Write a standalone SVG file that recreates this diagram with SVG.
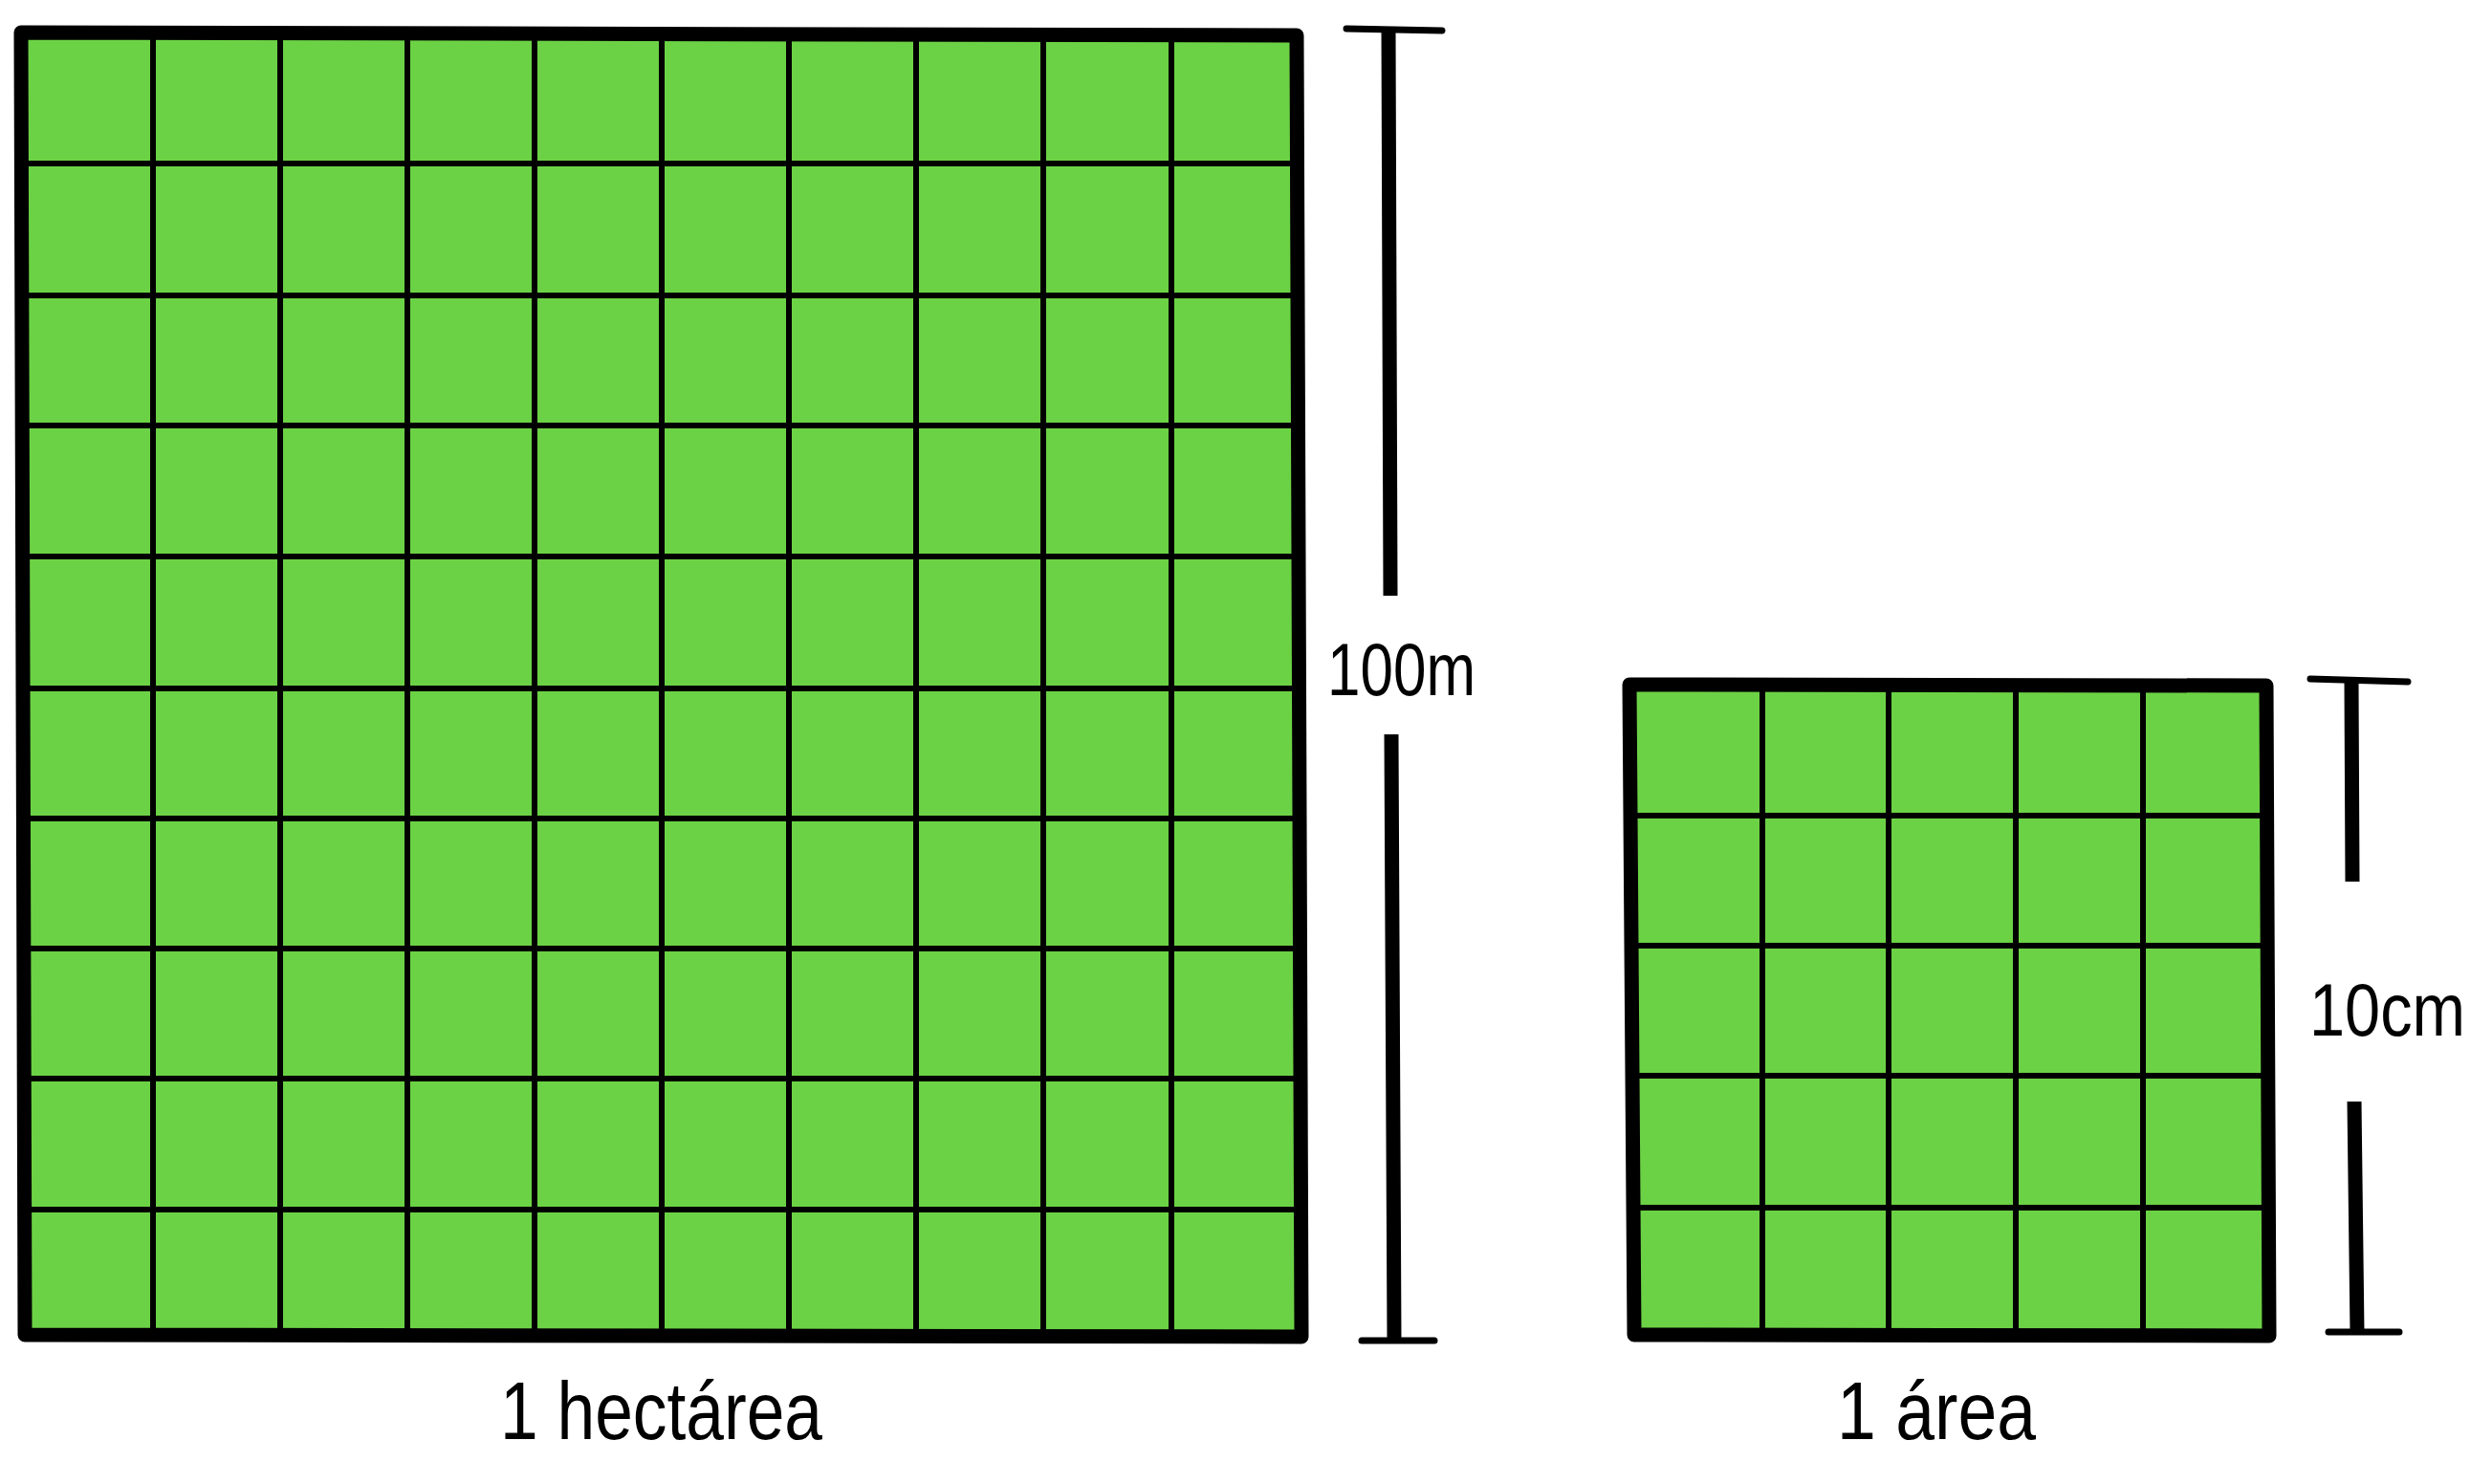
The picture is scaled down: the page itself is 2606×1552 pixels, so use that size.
<svg xmlns="http://www.w3.org/2000/svg" width="2606" height="1552" viewBox="0 0 2606 1552">
  <style>
    .field { fill: #6CD245; }
    .thin { stroke: #000; stroke-width: 6; fill: none; }
    .border { stroke: #000; stroke-width: 15; fill: none; stroke-linejoin: round; stroke-linecap: round; }
    .stem { stroke: #000; stroke-width: 15; fill: none; }
    .bar { stroke: #000; stroke-width: 7; fill: none; stroke-linecap: round; }
    .lbl { font-family: "Liberation Sans", "DejaVu Sans", sans-serif; fill: #000; }
  </style>
  <rect width="2606" height="1552" fill="#fff"/>

  <g id="hectarea">
    <rect class="field" x="26" y="36" width="1334" height="1360"/>
    <path class="thin" d="M160 36V1396M293 36V1396M426 36V1396M559 36V1396M692 36V1396M825 36V1396M958 36V1396M1091 36V1396M1225 36V1396"/>
    <path class="thin" d="M26 171H1360M26 309H1360M26 445H1360M26 582H1360M26 720H1360M26 856H1360M26 992H1360M26 1128H1360M26 1265H1360"/>
    <path class="border" d="M22 34L1356 37L1361 1398L26 1396Z"/>
  </g>

  <g id="area">
    <rect class="field" x="1711" y="717" width="662" height="679"/>
    <path class="thin" d="M1843 717V1396M1975 717V1396M2108 717V1396M2241 717V1396"/>
    <path class="thin" d="M1711 853H2373M1711 989H2373M1711 1125H2373M1711 1263H2373"/>
    <path class="border" d="M1704 716L2370 717L2373 1397L1709 1396Z"/>
  </g>

  <g id="dim-100m">
    <path class="stem" d="M1452 31L1454 623M1455 768L1458 1402"/>
    <path class="bar" d="M1408 30L1508 32M1424 1402L1500 1402"/>
    <text class="lbl" x="1388" y="727" font-size="78" textLength="155" lengthAdjust="spacingAndGlyphs">100m</text>
  </g>

  <g id="dim-10cm">
    <path class="stem" d="M2459 712L2460 922M2462 1152L2465 1393"/>
    <path class="bar" d="M2416 710L2518 713M2435 1393L2509 1393"/>
    <text class="lbl" x="2415" y="1083" font-size="78" textLength="163" lengthAdjust="spacingAndGlyphs">10cm</text>
  </g>

  <g id="labels">
    <text class="lbl" x="523" y="1505" font-size="86" textLength="337" lengthAdjust="spacingAndGlyphs">1 hectárea</text>
    <text class="lbl" x="1921" y="1505" font-size="86" textLength="208" lengthAdjust="spacingAndGlyphs">1 área</text>
  </g>

  <g id="connectors"></g>
</svg>
